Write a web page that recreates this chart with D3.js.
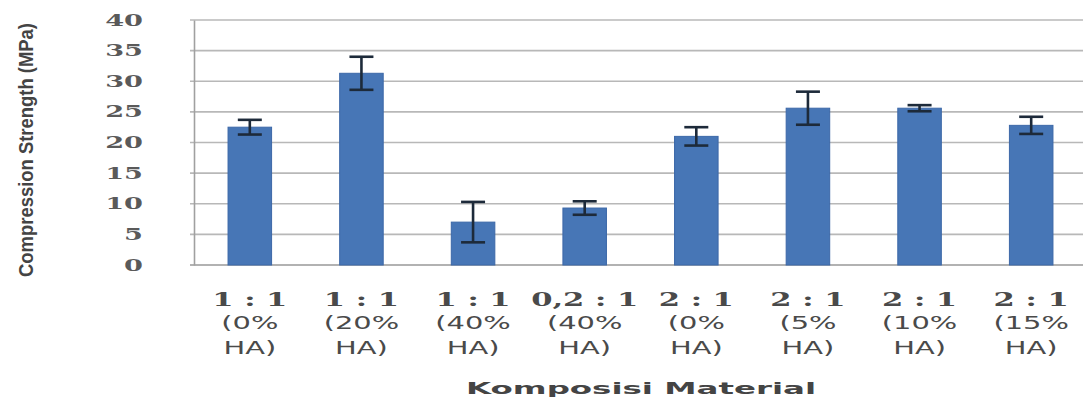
<!DOCTYPE html>
<html lang="id">
  <head>
    <meta charset="utf-8" />
    <title>Compression Strength – Komposisi Material</title>
    <script src="https://d3js.org/d3.v7.min.js"></script>
    <style>
      body {
        margin: 0;
        background: #ffffff;
      }
      svg {
        display: block;
      }
      .tick text {
        font-family: "DejaVu Serif", serif;
        font-weight: bold;
        fill: #5a5a5a;
      }
    </style>
  </head>
  <body>
    <svg id="chart" width="1083" height="400"></svg>
    <script>
      // valori
      const ratios = ["1 : 1", "1 : 1", "1 : 1", "0,2 : 1", "2 : 1", "2 : 1", "2 : 1", "2 : 1"];
      const haLines = ["(0%", "(20%", "(40%", "(40%", "(0%", "(5%", "(10%", "(15%"];
      const values = [22.5, 31.3, 7.0, 9.3, 21.0, 25.6, 25.6, 22.8];
      const errors = [1.2, 2.7, 3.3, 1.1, 1.5, 2.7, 0.5, 1.4];
      const yTicks = [0, 5, 10, 15, 20, 25, 30, 35, 40];

      const svg = d3.select("#chart");
      const margin = { top: 20, left: 194, bottom: 135 };
      const height = +svg.attr("height");
      const plotRight = 1087;
      const plotBottom = height - margin.bottom;
      const stretch = 1.7; // il testo originale è allargato in orizzontale

      const data = values.map((v, i) => ({ i, ratio: ratios[i], ha: haLines[i], v, e: errors[i] }));

      const x = d3
        .scaleBand()
        .domain(d3.range(values.length))
        .range([margin.left, plotRight])
        .paddingInner(0.61)
        .paddingOuter(0.305);

      const y = d3.scaleLinear().domain([0, 40]).range([plotBottom, margin.top]);

      // griglia
      svg
        .append("g")
        .selectAll("line")
        .data(yTicks)
        .join("line")
        .attr("x1", margin.left - 4)
        .attr("x2", plotRight)
        .attr("y1", (d) => y(d))
        .attr("y2", (d) => y(d))
        .attr("stroke", (d) => (d === 0 ? "#999" : "#b8b8b8"))
        .attr("stroke-width", 1.6);

      // asse y
      const yAxis = svg
        .append("g")
        .attr("transform", `translate(${margin.left},0)`)
        .call(d3.axisLeft(y).tickValues(yTicks).tickSize(0));
      yAxis.select(".domain").attr("stroke", "#a0a0a0").attr("stroke-width", 1.6);
      yAxis
        .selectAll(".tick text")
        .attr("font-size", 16)
        .attr("x", -51 / stretch)
        .attr("transform", `scale(${stretch},1)`);

      // barre
      svg
        .append("g")
        .selectAll("rect")
        .data(data)
        .join("rect")
        .attr("x", (d) => x(d.i))
        .attr("width", x.bandwidth())
        .attr("y", (d) => y(d.v))
        .attr("height", (d) => y(0) - y(d.v))
        .attr("fill", "#4776b6")
        .attr("stroke", "#3c68a8")
        .attr("stroke-width", 1);

      // barre di errore
      const eb = svg.append("g").attr("stroke", "#1d2a3a").attr("stroke-width", 2.6);
      const cx = (d) => x(d.i) + x.bandwidth() / 2;
      eb.selectAll("line.v")
        .data(data)
        .join("line")
        .attr("class", "v")
        .attr("x1", cx)
        .attr("x2", cx)
        .attr("y1", (d) => y(d.v + d.e))
        .attr("y2", (d) => y(d.v - d.e));
      eb.selectAll("line.t")
        .data(data)
        .join("line")
        .attr("class", "t")
        .attr("x1", (d) => cx(d) - 12)
        .attr("x2", (d) => cx(d) + 12)
        .attr("y1", (d) => y(d.v + d.e))
        .attr("y2", (d) => y(d.v + d.e));
      eb.selectAll("line.b")
        .data(data)
        .join("line")
        .attr("class", "b")
        .attr("x1", (d) => cx(d) - 12)
        .attr("x2", (d) => cx(d) + 12)
        .attr("y1", (d) => y(d.v - d.e))
        .attr("y2", (d) => y(d.v - d.e));

      // etichette categorie
      const lab = svg
        .append("g")
        .selectAll("text")
        .data(data)
        .join("text")
        .attr("text-anchor", "middle")
        .attr("font-family", "DejaVu Serif, serif")
        .attr("fill", "#4a4a4a")
        .attr("font-size", 18)
        .attr("transform", (d) => `translate(${cx(d)},${plotBottom + 41}) scale(${stretch},1)`);
      lab.append("tspan").attr("x", 0).attr("font-weight", "bold").text((d) => d.ratio);
      lab.append("tspan").attr("x", 0).attr("dy", 23).attr("font-family", "DejaVu Sans, sans-serif").attr("font-size", 17).text((d) => d.ha);
      lab.append("tspan").attr("x", 0).attr("dy", 25).attr("font-family", "DejaVu Sans, sans-serif").attr("font-size", 17).text("HA)");

      // titolo asse x
      svg
        .append("text")
        .attr("x", 641)
        .attr("y", 394)
        .attr("text-anchor", "middle")
        .attr("font-family", "DejaVu Sans, sans-serif")
        .attr("font-weight", "bold")
        .attr("font-size", 16)
        .attr("fill", "#444")
        .attr("textLength", 350)
        .attr("lengthAdjust", "spacingAndGlyphs")
        .text("Komposisi Material");

      // titolo asse y
      svg
        .append("text")
        .attr("transform", "translate(33,150) rotate(-90)")
        .attr("text-anchor", "middle")
        .attr("font-family", "Liberation Sans Narrow, Liberation Sans, sans-serif")
        .attr("font-weight", "bold")
        .attr("font-size", 20)
        .attr("fill", "#444")
        .attr("textLength", 254)
        .attr("lengthAdjust", "spacingAndGlyphs")
        .text("Compression Strength (MPa)");
    </script>
  </body>
</html>
